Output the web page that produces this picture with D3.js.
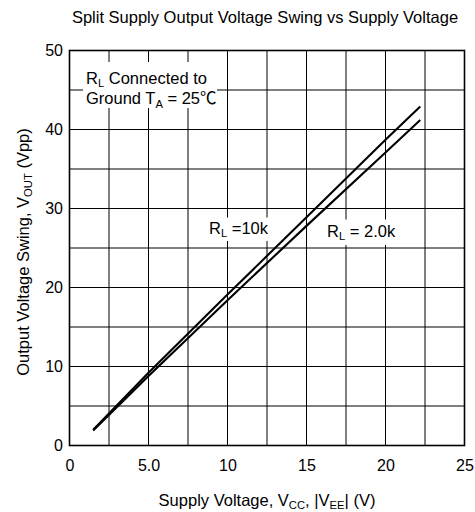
<!DOCTYPE html>
<html>
<head>
<meta charset="utf-8">
<script src="https://cdn.jsdelivr.net/npm/d3@7"></script>
<style>
  html, body { margin: 0; padding: 0; background: #fff; }
  svg { display: block; font-family: "Liberation Sans", Arial, sans-serif; }
</style>
</head>
<body>
<svg id="chart" width="475" height="512"></svg>
<script>
// ---- data ----
const xTickValues = [0, 5, 10, 15, 20, 25];
const xTickLabels = ["0", "5.0", "10", "15", "20", "25"];
const yTickValues = [0, 10, 20, 30, 40, 50];
const yTickLabels = ["0", "10", "20", "30", "40", "50"];
const xGridValues = [0, 2.5, 5, 7.5, 10, 12.5, 15, 17.5, 20, 22.5, 25];
const yGridValues = [0, 5, 10, 15, 20, 25, 30, 35, 40, 45, 50];

const supply10k = [1.5, 5, 10, 15, 20, 22.2];
const swing10k  = [2.0, 9.2, 19.1, 28.9, 38.7, 42.9];
const supply2k  = [1.5, 5, 10, 15, 20, 22.2];
const swing2k   = [1.9, 8.8, 18.4, 27.8, 37.1, 41.2];

// ---- layout ----
const svg = d3.select("#chart");
const L = 69.5, R = 464.5, T = 50.5, B = 445.5;
const x = d3.scaleLinear().domain([0, 25]).range([L, R]);
const y = d3.scaleLinear().domain([0, 50]).range([B, T]);

// grid
const g = svg.append("g");
g.selectAll("line.vx").data(xGridValues).join("line")
  .attr("x1", d => x(d)).attr("x2", d => x(d))
  .attr("y1", T).attr("y2", B)
  .attr("stroke", "#000").attr("stroke-width", 1);
g.selectAll("line.hy").data(yGridValues).join("line")
  .attr("y1", d => y(d)).attr("y2", d => y(d))
  .attr("x1", L).attr("x2", R)
  .attr("stroke", "#000").attr("stroke-width", 1);

// frame
svg.append("rect").attr("x", L).attr("y", T)
  .attr("width", R - L).attr("height", B - T)
  .attr("fill", "none").attr("stroke", "#000").attr("stroke-width", 1.6);

// axes (labels only)
const xAxis = d3.axisBottom(x).tickValues(xTickValues)
  .tickFormat((d, i) => xTickLabels[i]).tickSize(0).tickPadding(14);
const gx = svg.append("g").attr("transform", `translate(0,${B})`).call(xAxis);
gx.select(".domain").remove();
gx.selectAll("text").attr("font-size", 16).attr("fill", "#000")
  .attr("font-family", "Liberation Sans, Arial, sans-serif");

const yAxis = d3.axisLeft(y).tickValues(yTickValues)
  .tickFormat((d, i) => yTickLabels[i]).tickSize(0).tickPadding(6.5);
const gy = svg.append("g").attr("transform", `translate(${L},0)`).call(yAxis);
gy.select(".domain").remove();
gy.selectAll("text").attr("font-size", 16).attr("fill", "#000")
  .attr("font-family", "Liberation Sans, Arial, sans-serif");

// curves
const line = d3.line().x(d => x(d[0])).y(d => y(d[1]));
const data10k = supply10k.map((v, i) => [v, swing10k[i]]);
const data2k = supply2k.map((v, i) => [v, swing2k[i]]);
[data10k, data2k].forEach(d => {
  svg.append("path").datum(d).attr("d", line)
    .attr("fill", "none").attr("stroke", "#000").attr("stroke-width", 2.1)
    .attr("stroke-linejoin", "round");
});

// helper for text with subscripts: parts = [[text, isSub, family?], ...]
function richText(parent, parts, attrs, size) {
  const t = parent.append("text").attr("font-size", size).attr("fill", "#000");
  Object.entries(attrs).forEach(([k, v]) => t.attr(k, v));
  let shifted = false;
  parts.forEach(p => {
    const ts = t.append("tspan").text(p[0]);
    if (p[1] && !shifted) { ts.attr("dy", 3.5).attr("font-size", size * 0.68); shifted = true; }
    else if (p[1]) { ts.attr("font-size", size * 0.68); }
    else if (!p[1] && shifted) { ts.attr("dy", -3.5); shifted = false; }
    if (p[2]) ts.attr("font-family", p[2]);
  });
  return t;
}

function boxedLabel(parts, xPos, yPos, pad) {
  const gg = svg.append("g");
  const rect = gg.append("rect").attr("fill", "#fff");
  const t = richText(gg, parts, { x: xPos, y: yPos }, 16.5);
  const bb = t.node().getBBox();
  rect.attr("x", bb.x - pad[0]).attr("y", bb.y - pad[1])
    .attr("width", bb.width + pad[0] + pad[2]).attr("height", bb.height + pad[1] + pad[3]);
  return gg;
}

// annotation box
const ann = svg.append("g");
ann.append("rect").attr("x", 83).attr("y", 62).attr("width", 134).attr("height", 46).attr("fill", "#fff");
richText(ann, [["R"], ["L", true], [" Connected to"]], { x: 86, y: 83.5 }, 16.5);
richText(ann, [["Ground T"], ["A", true], [" = 25"], ["℃", false, "Noto Sans CJK SC"]], { x: 86, y: 104 }, 16.5);

// curve labels
boxedLabel([["R"], ["L", true], [" =10k"]], 209, 233.5, [3, 1, 0, 2]);
boxedLabel([["R"], ["L", true], [" = 2.0k"]], 327, 236.5, [3, 2, 2, 3]);

// title
svg.append("text").attr("x", 265).attr("y", 23).attr("text-anchor", "middle")
  .attr("font-size", 16.5).attr("fill", "#000")
  .text("Split Supply Output Voltage Swing vs Supply Voltage");

// x label
richText(svg, [["Supply Voltage, V"], ["CC", true], [", |V"], ["EE", true], ["| (V)"]],
  { x: 267, y: 505.5, "text-anchor": "middle" }, 16.5);

// y label
richText(svg, [["Output Voltage Swing, V"], ["OUT", true], [" (Vpp)"]],
  { transform: "translate(28.5,252) rotate(-90)", "text-anchor": "middle" }, 16.5);
</script>
</body>
</html>
